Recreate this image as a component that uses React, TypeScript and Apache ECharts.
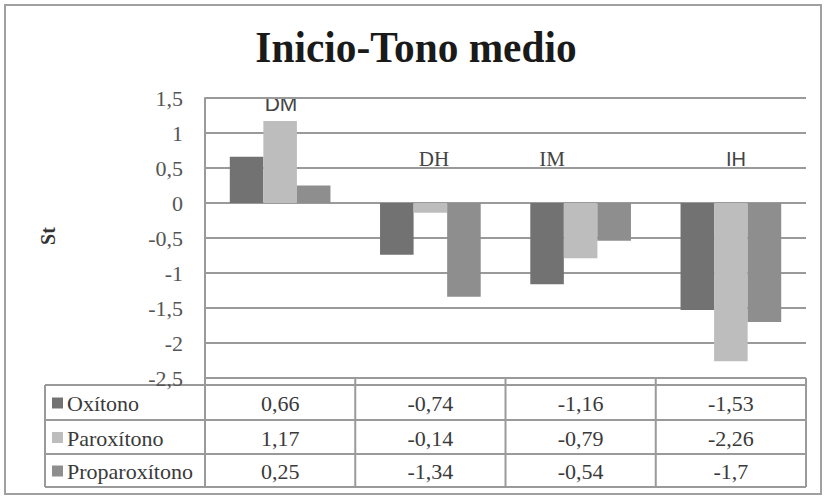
import React, { useEffect, useRef } from "react";
import * as echarts from "echarts";

const categories = ["DM", "DH", "IM", "IH"];
const seriesNames = ["Oxítono", "Paroxítono", "Proparoxítono"];
const oxitono = [0.66, -0.74, -1.16, -1.53];
const paroxitono = [1.17, -0.14, -0.79, -2.26];
const proparoxitono = [0.25, -1.34, -0.54, -1.7];
const seriesValues = [oxitono, paroxitono, proparoxitono];
const seriesColors = ["#727272", "#bdbdbd", "#8e8e8e"];
const yMin = -2.5;
const yMax = 1.5;
const yInterval = 0.5;
const titleText = "Inicio-Tono medio";
const yAxisName = "St";

const W = 826;
const H = 498;
const GRID_LEFT = 205;
const GRID_RIGHT = 806;
const GRID_TOP = 98;
const GRID_BOTTOM = 378;
const TABLE_LEFT = 45;
const ROW_Y = [385, 420, 454, 487];
const LINE = "#9a9a9a";
const SERIF = "Liberation Serif, Times New Roman, serif";
const SANS = "Liberation Sans, Arial, sans-serif";

const fmt = (v: number) => String(v).replace(".", ",");

export default function App() {
  const ref = useRef<HTMLDivElement>(null);
  useEffect(() => {
    if (!ref.current) return;
    const chart = echarts.init(ref.current, null, { renderer: "svg" });
    const colW = (GRID_RIGHT - GRID_LEFT) / categories.length;
    const graphics: any[] = [];
    graphics.push({
      type: "rect",
      shape: { x: 5, y: 5, width: 816, height: 489 },
      style: { fill: "none", stroke: "#a0a0a0", lineWidth: 2 },
    });
    graphics.push({
      type: "text",
      x: 416,
      y: 25,
      scaleX: 0.94,
      style: {
        text: titleText,
        fontFamily: SERIF,
        fontSize: 44,
        fontWeight: "bold",
        fill: "#1a1a1a",
        textAlign: "center",
        textVerticalAlign: "top",
      },
    });
    graphics.push({
      type: "text",
      x: 48,
      y: 236,
      rotation: Math.PI / 2,
      style: {
        text: yAxisName,
        fontFamily: SERIF,
        fontSize: 20,
        fontWeight: "bold",
        fill: "#333",
        textAlign: "center",
        textVerticalAlign: "middle",
      },
    });
    const catLabelPos = [
      { x: 281, y: 103, family: SANS, size: 21 },
      { x: 434, y: 159, family: SERIF, size: 21 },
      { x: 552, y: 159, family: SERIF, size: 21 },
      { x: 736, y: 159, family: SANS, size: 20 },
    ];
    categories.forEach((c, i) => {
      const p = catLabelPos[i];
      graphics.push({
        type: "text",
        x: p.x,
        y: p.y,
        style: {
          text: c,
          fontFamily: p.family,
          fontSize: p.size,
          fill: "#444",
          textAlign: "center",
          textVerticalAlign: "middle",
        },
      });
    });
    ROW_Y.forEach((y) => {
      graphics.push({
        type: "line",
        shape: { x1: TABLE_LEFT, y1: y, x2: GRID_RIGHT, y2: y },
        style: { stroke: LINE, lineWidth: 2 },
      });
    });
    graphics.push({
      type: "line",
      shape: { x1: TABLE_LEFT, y1: ROW_Y[0], x2: TABLE_LEFT, y2: ROW_Y[3] },
      style: { stroke: LINE, lineWidth: 2 },
    });
    for (let i = 0; i <= categories.length; i++) {
      const x = GRID_LEFT + i * colW;
      graphics.push({
        type: "line",
        shape: { x1: x, y1: GRID_BOTTOM, x2: x, y2: ROW_Y[3] },
        style: { stroke: LINE, lineWidth: 2 },
      });
    }
    seriesNames.forEach((name, r) => {
      const cy = (ROW_Y[r] + ROW_Y[r + 1]) / 2;
      graphics.push({
        type: "rect",
        shape: { x: 52, y: cy - 5, width: 11, height: 11 },
        style: { fill: seriesColors[r] },
      });
      graphics.push({
        type: "text",
        x: 67,
        y: cy + 1,
        style: {
          text: name,
          fontFamily: SERIF,
          fontSize: 22,
          fill: "#3a3a3a",
          textAlign: "left",
          textVerticalAlign: "middle",
        },
      });
      seriesValues[r].forEach((v, c) => {
        graphics.push({
          type: "text",
          x: GRID_LEFT + (c + 0.5) * colW,
          y: cy + 1,
          style: {
            text: fmt(v),
            fontFamily: SERIF,
            fontSize: 22,
            fill: "#3a3a3a",
            textAlign: "center",
            textVerticalAlign: "middle",
          },
        });
      });
    });

    chart.setOption({
      animation: false,
      textStyle: { fontFamily: SERIF },
      grid: {
        left: GRID_LEFT,
        right: W - GRID_RIGHT,
        top: GRID_TOP,
        bottom: H - GRID_BOTTOM,
        containLabel: false,
      },
      xAxis: {
        type: "category",
        data: categories,
        axisLine: { show: false },
        axisTick: { show: false },
        axisLabel: { show: false },
      },
      yAxis: {
        type: "value",
        min: yMin,
        max: yMax,
        interval: yInterval,
        axisLine: { show: true, lineStyle: { color: LINE, width: 2 } },
        axisTick: { show: false },
        splitLine: { show: true, lineStyle: { color: LINE, width: 2 } },
        axisLabel: {
          margin: 22,
          fontFamily: SERIF,
          fontSize: 22,
          color: "#555",
          formatter: (v: number) => fmt(v),
        },
      },
      series: seriesNames.map((name, i) => ({
        name,
        type: "bar",
        data: seriesValues[i],
        barGap: "0%",
        barCategoryGap: "33%",
        itemStyle: { color: seriesColors[i] },
      })),
      graphic: graphics,
    });
    return () => chart.dispose();
  }, []);
  return <div ref={ref} style={{ width: W, height: H, position: "absolute", left: 0, top: 0 }} />;
}
